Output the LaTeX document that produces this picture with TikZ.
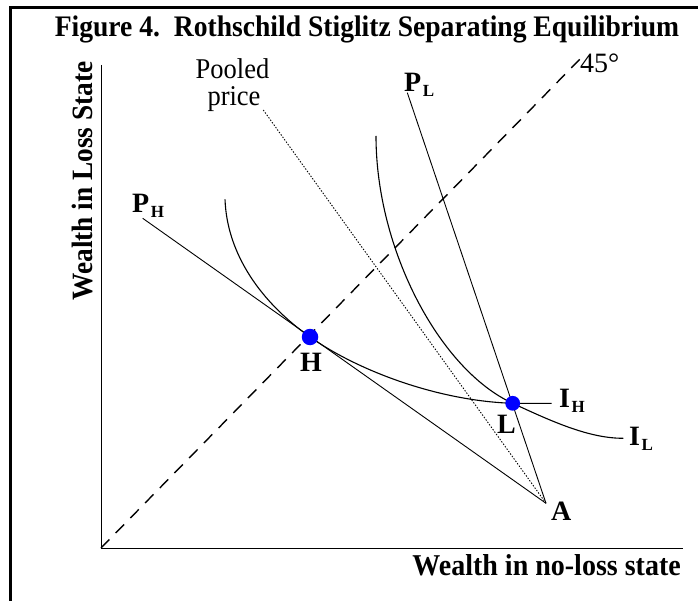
\documentclass[tikz,border=0pt]{standalone}
\usepackage{fontspec}
\setmainfont{Liberation Serif}
\begin{document}
\begin{tikzpicture}[x=1pt,y=-1pt,
  curve/.style={line width=1.1pt},
  bigb/.style={font=\bfseries\fontsize{28}{30}\selectfont, inner sep=0pt},
  reg/.style={font=\fontsize{26.5}{28}\selectfont, inner sep=0pt},
  dot/.style={circle, fill=blue, inner sep=0pt, minimum size=16.5pt},
  dashline/.style={line width=1.4pt, dash pattern=on 12pt off 9pt},
  dotline/.style={line width=0.9pt, dash pattern=on 1.4pt off 1.6pt}]
\useasboundingbox (0,0) rectangle (698,601);
\newcommand{\sbx}[1]{\kern1.5pt\raisebox{-5pt}{\fontsize{17}{17}\selectfont #1}}
\newcommand{\tall}[1]{\scalebox{1}[1.08]{#1}}
% frame
\draw[line width=3pt] (10.5,601) -- (10.5,7.5) -- (698,7.5);
% title
\node[bigb, font=\bfseries\fontsize{27.6}{30}\selectfont, anchor=base] (title) at (367,37) {\tall{Figure 4.\ \ Rothschild Stiglitz Separating Equilibrium}};
% axes
\coordinate (O) at (101,548);
\coordinate (Ytop) at (101,65);
\coordinate (Xend) at (683,548);
\draw[line width=1pt] (Ytop) -- (O) -- (Xend);
\node[bigb, font=\bfseries\fontsize{27.3}{28}\selectfont, rotate=90, anchor=base] (ylab) at (92,181) {\tall{Wealth in Loss State}};
\node[bigb, font=\bfseries\fontsize{28}{28}\selectfont, anchor=base east] (xlab) at (681,575) {\tall{Wealth in no-loss state}};
% 45 degree line
\coordinate (D) at (582,57);
\draw[dashline] (O) -- (D);
\node[reg, font=\fontsize{28}{28}\selectfont, anchor=base west] (deg) at (580,73) {45°};
% key points
\coordinate (A) at (546,503.3);
\coordinate (Hc) at (310,337);
\coordinate (Lc) at (512.7,403.3);
\coordinate (PHs) at (142.7,218.3);
\coordinate (PLs) at (407.3,92.7);
\coordinate (PPs) at (263.3,110);
\coordinate (IHs) at (225,199.3);
\coordinate (IHe) at (551.7,403.3);
\coordinate (ILs) at (376,136);
\coordinate (ILe) at (623.3,438.3);
% price lines
\draw[line width=0.9pt] (PHs) -- (A);
\draw[line width=0.9pt] (PLs) -- (A);
\draw[dotline] (PPs) -- (A);
% indifference curves
\draw[curve] (IHs) .. controls (227,255) and (262,303) .. (Hc)
   .. controls (360,372) and (440,401) .. (Lc) -- (IHe);
\draw[curve] (ILs) .. controls (376,250) and (440,370) .. (Lc)
   .. controls (555,423) and (590,438.3) .. (ILe);
% dots
\node[dot] (H) at (Hc) {};
\node[dot, minimum size=14.8pt] (L) at (Lc) {};
% labels
\node[reg, anchor=base] (pooled) at (232.5,79) {\tall{Pooled}};
\node[reg, anchor=base] (price) at (234,106) {\tall{price}};
\node[bigb, anchor=base west] (PL) at (404,92) {P\sbx{L}};
\node[bigb, anchor=base west] (PH) at (132,213) {P\sbx{H}};
\node[bigb, anchor=base] (Hl) at (311,371) {H};
\node[bigb, anchor=base west] (Ll) at (497,433) {L};
\node[bigb, anchor=base west] (Al) at (551,520) {A};
\node[bigb, anchor=base west] (IH) at (559,407) {I\sbx{H}};
\node[bigb, anchor=base west] (IL) at (629,445) {I\sbx{L}};
\end{tikzpicture}
\end{document}
